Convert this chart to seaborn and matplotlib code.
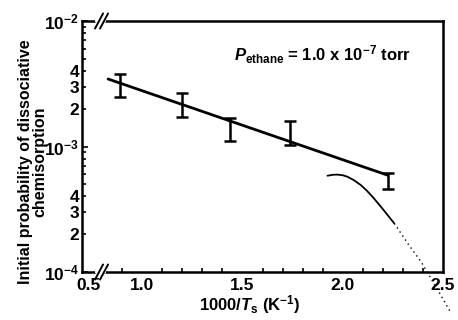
import matplotlib
matplotlib.use("Agg")
import matplotlib.pyplot as plt
import matplotlib.ticker as mticker
import numpy as np
import pandas as pd
import seaborn as sns

# measured points (1000/Ts, probability) with error bar limits
pts_x = [0.89, 1.20, 1.44, 1.735, 2.225]
pts_y = [3.06e-3, 2.14e-3, 1.37e-3, 1.28e-3, 5.3e-4]
pts_lo = [2.48e-3, 1.72e-3, 1.11e-3, 1.03e-3, 4.6e-4]
pts_hi = [3.80e-3, 2.67e-3, 1.69e-3, 1.60e-3, 6.2e-4]

# straight fit line
fit_x = [0.83, 2.225]
fit_y = [3.45e-3, 5.9e-4]

# model curve
curve_x = [1.924, 1.95, 1.974, 2.0, 2.024, 2.055, 2.09, 2.12, 2.149, 2.19,
           2.257, 2.324, 2.39, 2.415, 2.474, 2.54]
curve_y = [5.85e-4, 5.95e-4, 5.97e-4, 5.9e-4, 5.74e-4, 5.4e-4, 4.93e-4, 4.45e-4, 3.97e-4, 3.32e-4,
           2.44e-4, 1.69e-4, 1.21e-4, 1.04e-4, 7.2e-5, 4.7e-5]

x_ticks = [0.73, 1.0, 1.5, 2.0, 2.5]
x_ticklabels = ["0.5", "1.0", "1.5", "2.0", "2.5"]

sns.set_style("ticks")
plt.rcParams["font.family"] = ["Liberation Sans", "DejaVu Sans"]
plt.rcParams["font.weight"] = "bold"
plt.rcParams["mathtext.fontset"] = "custom"
plt.rcParams["mathtext.rm"] = "Liberation Sans:bold"
plt.rcParams["mathtext.it"] = "Liberation Sans:bold:italic"
plt.rcParams["mathtext.bf"] = "Liberation Sans:bold"
for key in ("text.color", "axes.labelcolor", "xtick.color", "ytick.color", "axes.edgecolor"):
    plt.rcParams[key] = "black"

fig = plt.figure(figsize=(4.58, 3.2), dpi=100)
ax = fig.add_axes([82 / 458, 1 - 272 / 320, 361 / 458, 251 / 320])

fit_df = pd.DataFrame({"x": fit_x, "y": fit_y})
sns.lineplot(data=fit_df, x="x", y="y", ax=ax, color="black", lw=2)

ax.errorbar(pts_x, pts_y,
            yerr=[np.array(pts_y) - np.array(pts_lo), np.array(pts_hi) - np.array(pts_y)],
            fmt="none", ecolor="black", elinewidth=1.8, capsize=4, capthick=1.8)

curve = pd.DataFrame({"x": curve_x, "y": curve_y})
solid = curve[curve["x"] <= 2.26]
dotted = curve[curve["x"] >= 2.25]
sns.lineplot(data=solid, x="x", y="y", ax=ax, color="black", lw=1.3)
sns.lineplot(data=dotted, x="x", y="y", ax=ax, color="black", lw=1.0, linestyle=(0, (1, 2.5)))
for line in ax.lines[-2:]:
    line.set_clip_on(False)

ax.set_yscale("log")
ax.set_ylim(1e-4, 1e-2)
ax.set_xlim(0.7, 2.5)


def minor_label(v, pos):
    m = int(round(v / 10 ** np.floor(np.log10(v) + 1e-9)))
    return str(m) if m in (2, 3, 4) else ""


ax.yaxis.set_major_locator(mticker.FixedLocator([1e-4, 1e-3, 1e-2]))
ax.yaxis.set_major_formatter(mticker.FixedFormatter([r"10$^{-4}$", r"10$^{-3}$", r"10$^{-2}$"]))
minor_y = [m * 10.0 ** e for e in (-4, -3) for m in range(2, 10)]
ax.yaxis.set_minor_locator(mticker.FixedLocator(minor_y))
ax.yaxis.set_minor_formatter(mticker.FuncFormatter(minor_label))

ax.xaxis.set_major_locator(mticker.FixedLocator(x_ticks))
ax.xaxis.set_major_formatter(mticker.FixedFormatter(x_ticklabels))
ax.xaxis.set_minor_locator(mticker.FixedLocator(np.round(np.arange(0.9, 2.45, 0.1), 2)))

ax.tick_params(axis="both", which="both", direction="in", top=False, right=False, width=1.2, labelsize=12.5)
ax.tick_params(axis="both", which="major", length=4, pad=2)
ax.tick_params(axis="both", which="minor", length=3)
ax.tick_params(axis="x", which="major", length=0, pad=4)
ax.tick_params(axis="y", which="minor", labelsize=12.5, pad=2)
for s in ax.spines.values():
    s.set_linewidth(1.8)
    s.set_visible(True)

# axis break marks on top and bottom spines
for yb in (0, 1):
    ax.plot([0.775, 0.81], [yb, yb], transform=ax.get_xaxis_transform(), color="white", lw=3, clip_on=False, zorder=5)
    for xb in (0.785, 0.81):
        ax.plot([xb - 0.02, xb + 0.02], [yb - 0.03, yb + 0.03], transform=ax.get_xaxis_transform(),
                color="black", lw=1.4, clip_on=False, zorder=6)

ax.set_xlabel(r"1000/$\mathit{T}_{\mathrm{s}}$ (K$^{-1}$)", fontsize=12, fontweight="bold")
ax.xaxis.set_label_coords(0.465, -0.085)
ax.set_ylabel("Initial probability of dissociative\nchemisorption", fontsize=11.5, fontweight="bold",
              linespacing=0.95)
ax.yaxis.set_label_coords(-0.097, 0.44)
ax.text(0.42, 0.84, r"$\mathit{P}_{\mathrm{ethane}}$ = 1.0 x 10$^{-7}$ torr", transform=ax.transAxes,
        fontsize=12, fontweight="bold")

fig.savefig("out.png", dpi=100)
